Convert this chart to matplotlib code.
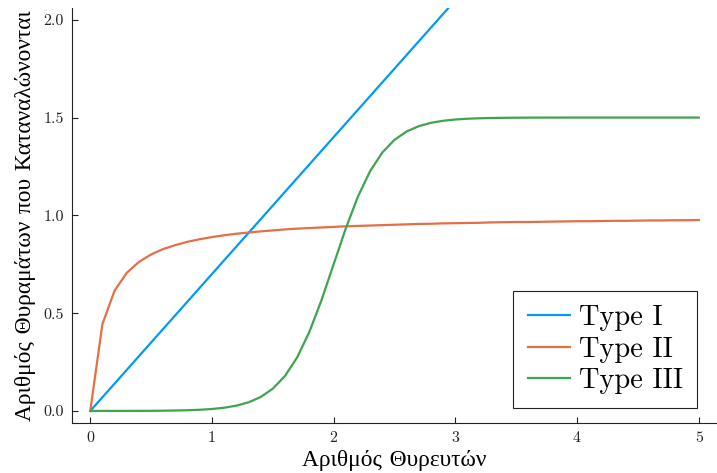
import matplotlib
matplotlib.use("Agg")
import matplotlib.pyplot as plt

# x grid: number of predators
x = [round(0.1 * i, 1) for i in range(51)]

type_1 = [0.00, 0.07, 0.14, 0.21, 0.28, 0.35, 0.42, 0.49, 0.56, 0.63,
          0.70, 0.77, 0.84, 0.91, 0.98, 1.05, 1.12, 1.19, 1.26, 1.33,
          1.40, 1.47, 1.54, 1.61, 1.68, 1.75, 1.82, 1.89, 1.96, 2.03,
          2.10, 2.17, 2.24, 2.31, 2.38, 2.45, 2.52, 2.59, 2.66, 2.73,
          2.80, 2.87, 2.94, 3.01, 3.08, 3.15, 3.22, 3.29, 3.36, 3.43,
          3.50]

type_2 = [0.000, 0.444, 0.615, 0.706, 0.762, 0.800, 0.828, 0.848, 0.865, 0.878,
          0.889, 0.898, 0.906, 0.912, 0.918, 0.923, 0.928, 0.932, 0.935, 0.938,
          0.941, 0.944, 0.946, 0.948, 0.950, 0.952, 0.954, 0.956, 0.957, 0.959,
          0.960, 0.961, 0.962, 0.964, 0.965, 0.966, 0.966, 0.967, 0.968, 0.969,
          0.970, 0.970, 0.971, 0.972, 0.972, 0.973, 0.974, 0.974, 0.975, 0.975,
          0.976]

type_3 = [0.0000, 0.0001, 0.0002, 0.0003, 0.0005, 0.0008, 0.0014, 0.0023, 0.0037, 0.0061,
          0.0100, 0.0165, 0.0270, 0.0440, 0.0711, 0.1138, 0.1788, 0.2736, 0.4034, 0.5663,
          0.7500, 0.9337, 1.0966, 1.2264, 1.3212, 1.3862, 1.4289, 1.4560, 1.4730, 1.4835,
          1.4900, 1.4939, 1.4963, 1.4978, 1.4986, 1.4992, 1.4995, 1.4997, 1.4998, 1.4999,
          1.5000, 1.5000, 1.5000, 1.5000, 1.5000, 1.5000, 1.5000, 1.5000, 1.5000, 1.5000,
          1.5000]

labels = ["Type I", "Type II", "Type III"]
colors = ["#009AFA", "#E36F47", "#3EA44E"]

xticks = [0, 1, 2, 3, 4, 5]
yticks = [0.0, 0.5, 1.0, 1.5, 2.0]

plt.rcParams["font.family"] = ["cmr10", "Liberation Serif", "DejaVu Serif"]
plt.rcParams["axes.formatter.use_mathtext"] = False

W, H = 717, 473
fig = plt.figure(figsize=(W / 100, H / 100), dpi=100)
ax = fig.add_axes([72 / W, 50.3 / H, 645 / W, 414.7 / H])

for ys, lab, c in zip([type_1, type_2, type_3], labels, colors):
    ax.plot(x, ys, color=c, linewidth=1.6, label=lab)

ax.set_xlim(-0.15, 5.15)
ax.set_ylim(-0.06, 2.06)
ax.set_xticks(xticks)
ax.set_xticklabels([str(v) for v in xticks])
ax.set_yticks(yticks)
ax.set_yticklabels([f"{v:.1f}" for v in yticks])

for side in ("top", "right"):
    ax.spines[side].set_visible(False)
for side in ("left", "bottom"):
    ax.spines[side].set_linewidth(0.8)
    ax.spines[side].set_color("#222222")

ax.tick_params(direction="in", length=4, width=0.8, labelsize=11.5,
               colors="#222222", pad=6)

ax.set_xlabel("Αριθμός Θυρευτών", fontsize=16.8, labelpad=3)
ax.set_ylabel("Αριθμός Θυραμάτων που Καταναλώνονται", fontsize=16.8, labelpad=5)

leg = ax.legend(loc="lower right", bbox_to_anchor=(0.9695, 0.0347),
                borderaxespad=0, fontsize=20.5, handlelength=1.5,
                handletextpad=0.3, labelspacing=0.18, borderpad=0.5,
                fancybox=False, framealpha=1, edgecolor="#222222")
leg.get_frame().set_linewidth(0.8)

fig.savefig("out.png", dpi=100)
